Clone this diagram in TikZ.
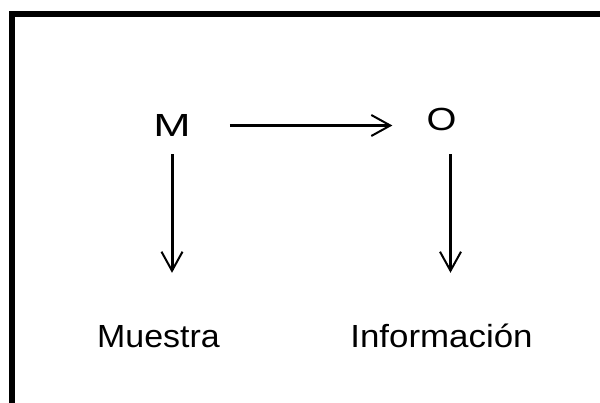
\documentclass[tikz,border=0pt]{standalone}
\usepackage{fontspec}
\setmainfont{Liberation Sans}
\usepackage{graphicx}
\usetikzlibrary{arrows.meta}
\tikzset{
  lbl/.style={inner sep=0pt, anchor=base, text height=23pt, text depth=0pt,
              font=\fontsize{32}{38}\selectfont},
  arr/.style={line width=3pt, -{Straight Barb[length=19pt,width=21pt,line width=2pt]}},
  frame/.style={line width=6pt, line join=miter}
}
\begin{document}
\begin{tikzpicture}[x=1pt,y=-1pt]
  \useasboundingbox (0,0) rectangle (600,403);
  % open frame: left and top edges only
  \draw[frame] (12,403) -- (12,14) -- (600,14);

  % labels
  \node[lbl] (M)   at (172,137)   {\scalebox{1.4}[1]{M}};
  \node[lbl] (O)   at (441.5,131) {\scalebox{1.2}[1]{O}};
  \node[lbl] (mu)  at (158.5,348) {\scalebox{1.06}[1]{Muestra}};
  \node[lbl] (inf) at (441.5,348) {\scalebox{1.09}[1]{Información}};

  % connectors
  \draw[arr] ([xshift=39pt]M.east) -- ([xshift=-34pt]O.west |- M.east);
  \draw[arr] ([yshift=-17pt]M.south) -- ([yshift=52pt]M.south |- mu.north);
  \draw[arr] ([xshift=9pt,yshift=-23pt]O.south) -- ([xshift=9pt,yshift=52pt]O.south |- inf.north);
\end{tikzpicture}
\end{document}
